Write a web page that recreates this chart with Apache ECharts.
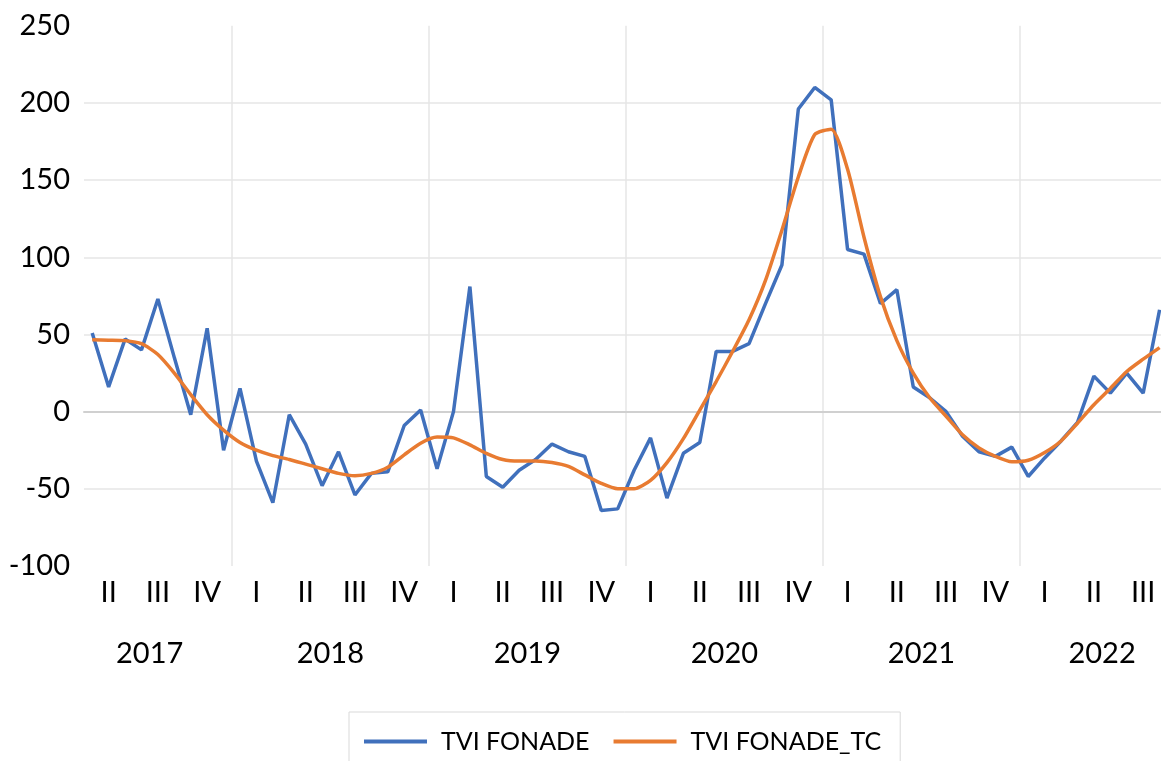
<!DOCTYPE html>
<html><head><meta charset="utf-8">
<script src="https://cdn.jsdelivr.net/npm/echarts@6/dist/echarts.min.js"></script>
<style>html,body{margin:0;padding:0;background:#fff}#c{width:1161px;height:761px}</style>
</head><body><div id="c"></div>
<script>
const months = [
  "2017-04","2017-05","2017-06","2017-07","2017-08","2017-09","2017-10","2017-11","2017-12",
  "2018-01","2018-02","2018-03","2018-04","2018-05","2018-06","2018-07","2018-08","2018-09","2018-10","2018-11","2018-12",
  "2019-01","2019-02","2019-03","2019-04","2019-05","2019-06","2019-07","2019-08","2019-09","2019-10","2019-11","2019-12",
  "2020-01","2020-02","2020-03","2020-04","2020-05","2020-06","2020-07","2020-08","2020-09","2020-10","2020-11","2020-12",
  "2021-01","2021-02","2021-03","2021-04","2021-05","2021-06","2021-07","2021-08","2021-09","2021-10","2021-11","2021-12",
  "2022-01","2022-02","2022-03","2022-04","2022-05","2022-06","2022-07","2022-08","2022-09"
];
const tviFonade = [
  51, 16, 47, 40, 73, 35, -2, 54, -25,
  15, -32, -59, -2, -21, -48, -26, -54, -40, -39, -9, 1,
  -37, 0, 81, -42, -49, -38, -31, -21, -26, -29, -64, -63,
  -38, -17, -56, -27, -20, 39, 39, 44, 70, 95, 196, 210,
  202, 105, 102, 70, 79, 16, 9, 0, -16, -26, -29, -23,
  -42, -30, -19, -7, 23, 12, 25, 12, 66
];
const tviFonadeTC = [
  46.5, 46.3, 46, 44, 37, 25, 11, -2, -12,
  -20, -25, -28.5, -31, -34, -37, -40, -41.5, -40, -36, -28, -20.5,
  -16.5, -17, -21.5, -27, -31, -32, -32, -33, -35.5, -41, -46.5, -50,
  -50, -44.5, -33, -17.5, 1, 19.5, 39, 59.5, 85, 117.5, 152, 179.5,
  183, 157, 113, 74.5, 46, 25, 9, -3, -15, -23.5, -29, -32.5,
  -31.5, -26.5, -19, -7.5, 4.5, 15, 26, 34, 41.5
];
const quarterNames = ["I", "II", "III", "IV"];
const seriesNames = ["TVI FONADE", "TVI FONADE_TC"];
const yMin = -100, yMax = 250, yStep = 50;

const FONT = "Lato";
const BLUE = '#4070BC', ORANGE = '#E87B31';
const monthNum = m => parseInt(m.slice(5), 10);
const isMidQuarter = m => (monthNum(m) - 1) % 3 === 1;
const quarterOf = m => quarterNames[Math.floor((monthNum(m) - 1) / 3)];

const years = [...new Set(months.map(m => m.slice(0, 4)))];
const yearPos = years.map(y => {
  const idx = months.map((m, i) => m.startsWith(y) ? i : -1).filter(i => i >= 0);
  const first = idx[0], last = idx[idx.length - 1];
  let c = (first + last) / 2;
  if (monthNum(months[first]) !== 1) c -= 0.5;
  else if (monthNum(months[last]) !== 12) c += 0.5;
  return c;
});

const gridCols = ['rgba(0,0,0,0)'];
for (let v = yMin + yStep; v < yMax; v += yStep) gridCols.push('#E6E6E6');
gridCols.push('rgba(0,0,0,0)');

const chart = echarts.init(document.getElementById('c'), null, {renderer: 'canvas'});
chart.setOption({
  animation: false,
  backgroundColor: '#fff',
  grid: {left: 84, right: -6.8, top: 25.7, bottom: 195, containLabel: false, outerBoundsMode: 'none'},
  legend: {
    left: 349, top: 712,
    padding: [17, 19, 17, 15],
    borderColor: '#D9D9D9', borderWidth: 1,
    itemWidth: 63, itemHeight: 4, itemGap: 24,
    icon: 'rect',
    textStyle: {fontFamily: FONT, fontSize: 25, color: '#000', padding: [0, 0, 0, 9]},
    data: seriesNames
  },
  xAxis: [
    {
      type: 'category', data: months, position: 'bottom', boundaryGap: true,
      axisLine: {show: false, onZero: false}, axisTick: {show: false},
      splitLine: {show: true, interval: (i, v) => monthNum(v) === 1, lineStyle: {color: '#E6E6E6', width: 1.5}},
      axisLabel: {
        interval: (i, v) => isMidQuarter(v), formatter: v => quarterOf(v),
        margin: 12, fontFamily: FONT, fontSize: 29, lineHeight: 29, color: '#000'
      }
    },
    {
      type: 'value', min: -0.5, max: months.length - 0.5, position: 'bottom',
      axisLine: {show: false, onZero: false}, axisTick: {show: false}, splitLine: {show: false},
      axisLabel: {
        customValues: yearPos,
        formatter: v => { let k = 0; yearPos.forEach((p, i) => { if (Math.abs(p - v) < Math.abs(yearPos[k] - v)) k = i; }); return years[k]; },
        margin: 73, fontFamily: FONT, fontSize: 29, lineHeight: 29, color: '#000'
      }
    },
    {
      type: 'category', data: months, position: 'bottom',
      axisLine: {show: true, onZero: true, lineStyle: {color: '#D0D0D0', width: 2}},
      axisTick: {show: false}, axisLabel: {show: false}, splitLine: {show: false}
    }
  ],
  yAxis: {
    type: 'value', min: yMin, max: yMax, interval: yStep,
    axisLine: {show: false}, axisTick: {show: false},
    splitLine: {show: true, lineStyle: {color: gridCols, width: 1.5}},
    axisLabel: {margin: 14, fontFamily: FONT, fontSize: 29, color: '#000'}
  },
  series: [
    {name: seriesNames[0], type: 'line', xAxisIndex: 0, data: tviFonade, symbol: 'none',
     lineStyle: {width: 3.5, color: BLUE}, itemStyle: {color: BLUE}, z: 3},
    {name: seriesNames[1], type: 'line', xAxisIndex: 0, data: tviFonadeTC, symbol: 'none', smooth: 0.22,
     lineStyle: {width: 3.5, color: ORANGE}, itemStyle: {color: ORANGE}, z: 4}
  ]
});
</script></body></html>
